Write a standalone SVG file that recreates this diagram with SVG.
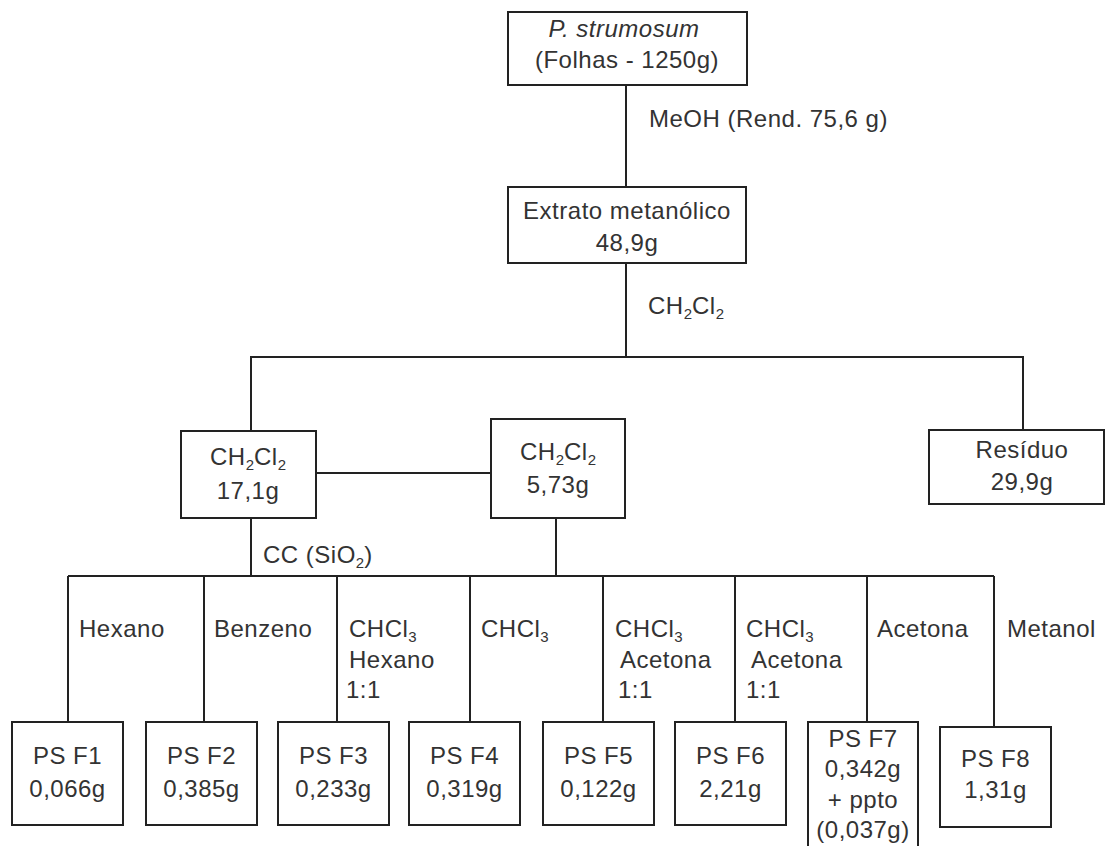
<svg xmlns="http://www.w3.org/2000/svg" width="1106" height="846" viewBox="0 0 1106 846">
<style>
  .box{fill:#fff;stroke:#222;stroke-width:2}
  .ln{fill:none;stroke:#222;stroke-width:2}
  text{font-family:"Liberation Sans",Arial,Helvetica,sans-serif;font-size:24px;fill:#333;letter-spacing:0.5px}
  .c{text-anchor:middle}
  .sub{font-size:15px;letter-spacing:0}
</style>
<rect width="1106" height="846" fill="#fff"/>
<g id="connectors">
  <line class="ln" x1="626" y1="85" x2="626" y2="187"/>
  <line class="ln" x1="626" y1="263" x2="626" y2="357"/>
  <polyline class="ln" points="251,431 251,357 1023,357 1023,430"/>
  <line class="ln" x1="316" y1="473" x2="491" y2="473"/>
  <line class="ln" x1="251" y1="518" x2="251" y2="576"/>
  <line class="ln" x1="556" y1="518" x2="556" y2="576"/>
  <line class="ln" x1="68" y1="576" x2="994" y2="576"/>
  <line class="ln" x1="68" y1="576" x2="68" y2="722"/>
  <line class="ln" x1="204" y1="576" x2="204" y2="722"/>
  <line class="ln" x1="337" y1="576" x2="337" y2="722"/>
  <line class="ln" x1="470" y1="576" x2="470" y2="722"/>
  <line class="ln" x1="603" y1="576" x2="603" y2="722"/>
  <line class="ln" x1="735" y1="576" x2="735" y2="722"/>
  <line class="ln" x1="867" y1="576" x2="867" y2="722"/>
  <line class="ln" x1="994" y1="576" x2="994" y2="727"/>
  <text x="649" y="127">MeOH (Rend. 75,6 g)</text>
  <text x="648" y="314">CH<tspan class="sub" dy="5">2</tspan><tspan dy="-5">Cl</tspan><tspan class="sub" dy="5">2</tspan></text>
  <text x="263" y="563">CC (SiO<tspan class="sub" dy="5">2</tspan><tspan dy="-5">)</tspan></text>
  <text x="79" y="637">Hexano</text>
  <text x="214" y="637">Benzeno</text>
  <text x="349" y="637">CHCl<tspan class="sub" dy="5">3</tspan></text>
  <text x="349" y="668">Hexano</text>
  <text x="346" y="698">1:1</text>
  <text x="481" y="637">CHCl<tspan class="sub" dy="5">3</tspan></text>
  <text x="615" y="637">CHCl<tspan class="sub" dy="5">3</tspan></text>
  <text x="620" y="668">Acetona</text>
  <text x="618" y="698">1:1</text>
  <text x="746" y="637">CHCl<tspan class="sub" dy="5">3</tspan></text>
  <text x="751" y="668">Acetona</text>
  <text x="746" y="698">1:1</text>
  <text x="877" y="637">Acetona</text>
  <text x="1007" y="637">Metanol</text>
</g>
<g id="n-plant">
  <rect class="box" x="508" y="12" width="239" height="73"/>
  <text class="c" x="624" y="37" font-style="italic">P. strumosum</text>
  <text class="c" x="627" y="68">(Folhas - 1250g)</text>
</g>
<g id="n-extrato">
  <rect class="box" x="508" y="187" width="238" height="76"/>
  <text class="c" x="627" y="219">Extrato metanólico</text>
  <text class="c" x="627" y="251">48,9g</text>
</g>
<g id="n-ch2cl2-a">
  <rect class="box" x="181" y="431" width="135" height="87"/>
  <text class="c" x="248" y="465">CH<tspan class="sub" dy="5">2</tspan><tspan dy="-5">Cl</tspan><tspan class="sub" dy="5">2</tspan></text>
  <text class="c" x="248" y="499">17,1g</text>
</g>
<g id="n-ch2cl2-b">
  <rect class="box" x="491" y="419" width="134" height="99"/>
  <text class="c" x="558" y="460">CH<tspan class="sub" dy="5">2</tspan><tspan dy="-5">Cl</tspan><tspan class="sub" dy="5">2</tspan></text>
  <text class="c" x="558" y="493">5,73g</text>
</g>
<g id="n-residuo">
  <rect class="box" x="929" y="430" width="175" height="74"/>
  <text class="c" x="1022" y="458">Resíduo</text>
  <text class="c" x="1022" y="490">29,9g</text>
</g>
<g id="n-f1">
  <rect class="box" x="12" y="722" width="111" height="103"/>
  <text class="c" x="67.5" y="764">PS F1</text>
  <text class="c" x="67.5" y="797">0,066g</text>
</g>
<g id="n-f2">
  <rect class="box" x="146" y="722" width="111" height="103"/>
  <text class="c" x="201.5" y="764">PS F2</text>
  <text class="c" x="201.5" y="797">0,385g</text>
</g>
<g id="n-f3">
  <rect class="box" x="278" y="722" width="111" height="103"/>
  <text class="c" x="333.5" y="764">PS F3</text>
  <text class="c" x="333.5" y="797">0,233g</text>
</g>
<g id="n-f4">
  <rect class="box" x="409" y="722" width="111" height="103"/>
  <text class="c" x="464.5" y="764">PS F4</text>
  <text class="c" x="464.5" y="797">0,319g</text>
</g>
<g id="n-f5">
  <rect class="box" x="543" y="722" width="111" height="103"/>
  <text class="c" x="598.5" y="764">PS F5</text>
  <text class="c" x="598.5" y="797">0,122g</text>
</g>
<g id="n-f6">
  <rect class="box" x="675" y="722" width="111" height="103"/>
  <text class="c" x="730.5" y="764">PS F6</text>
  <text class="c" x="730.5" y="797">2,21g</text>
</g>
<g id="n-f7">
  <rect class="box" x="808" y="722" width="110" height="130"/>
  <text class="c" x="863" y="747">PS F7</text>
  <text class="c" x="863" y="777">0,342g</text>
  <text class="c" x="863" y="808">+ ppto</text>
  <text class="c" x="863" y="838">(0,037g)</text>
</g>
<g id="n-f8">
  <rect class="box" x="940" y="727" width="111" height="100"/>
  <text class="c" x="995.5" y="767">PS F8</text>
  <text class="c" x="995.5" y="798">1,31g</text>
</g>
</svg>
